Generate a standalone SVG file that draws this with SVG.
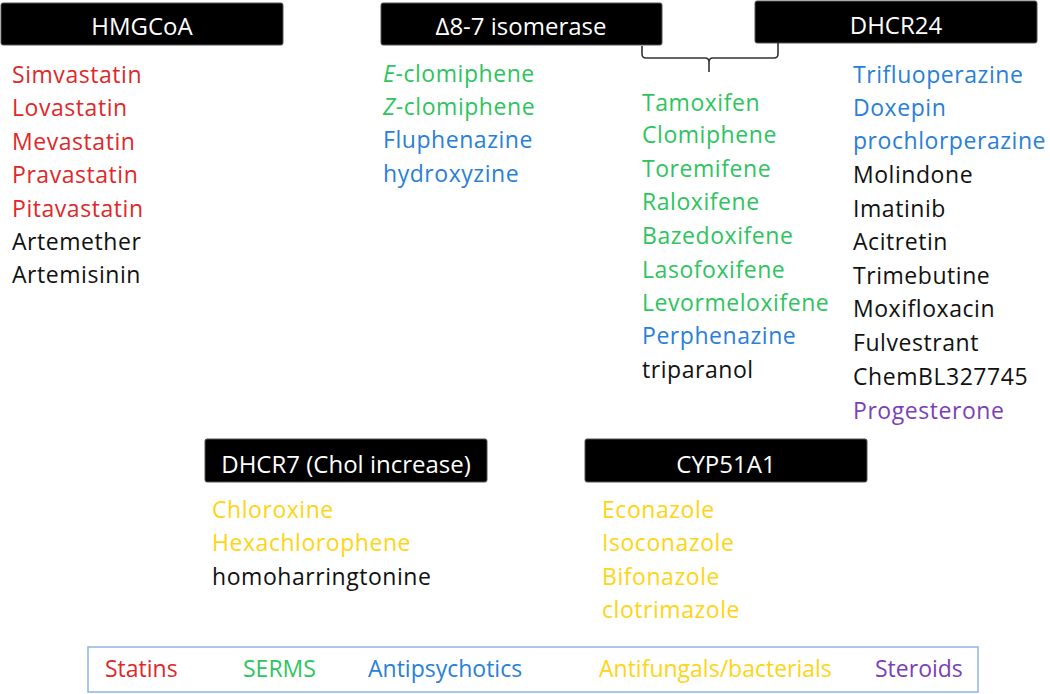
<svg xmlns="http://www.w3.org/2000/svg" width="1050" height="694" viewBox="0 0 1050 694">
<style>
text{font-family:"Open Sans","Liberation Sans",sans-serif;font-size:23px;}
.ls text{letter-spacing:0.55px;}
.hd rect{fill:#000;stroke:#555;stroke-width:1;}
.hd text{fill:#fff;font-size:24px;text-anchor:middle;}
.r{fill:#E0282A;}
.g{fill:#2EC45E;}
.b{fill:#2880D8;}
.y{fill:#FFD414;}
.p{fill:#7B3FB8;}
.k{fill:#111;}
.it{font-style:italic;}
</style>
<rect width="1050" height="694" fill="#fff"/>
<g id="hmgcoa" class="hd"><rect x="1" y="3" width="282" height="42" rx="2"/><text x="142" y="35">HMGCoA</text></g>
<g id="isomerase" class="hd"><rect x="381" y="3" width="281" height="42" rx="2"/><text x="521" y="35">Δ8-7 isomerase</text></g>
<g id="dhcr24" class="hd"><rect x="755" y="1" width="282" height="42" rx="2"/><text x="896" y="34">DHCR24</text></g>
<g id="dhcr7" class="hd"><rect x="205" y="439" width="282" height="43" rx="2"/><text x="346" y="473">DHCR7 (Chol increase)</text></g>
<g id="cyp51a1" class="hd"><rect x="585" y="439" width="282" height="43" rx="2"/><text x="726" y="473">CYP51A1</text></g>
<g id="connectors">
<path d="M642,46 L642,54 Q642,58 646,58 L705,58 Q709,58 709,62 L709,72 M709,62 Q709,58 713,58 L774,58 Q778,58 778,54 L778,43" fill="none" stroke="#333" stroke-width="1.6"/>
</g>
<g id="list-hmgcoa" class="ls">
<text x="12" y="83" class="r">Simvastatin</text>
<text x="12" y="116" class="r">Lovastatin</text>
<text x="12" y="150" class="r">Mevastatin</text>
<text x="12" y="183" class="r">Pravastatin</text>
<text x="12" y="217" class="r">Pitavastatin</text>
<text x="12" y="250" class="k">Artemether</text>
<text x="12" y="283" class="k">Artemisinin</text>
</g>
<g id="list-isomerase" class="ls">
<text x="383" y="82" class="g"><tspan class="it">E</tspan>-clomiphene</text>
<text x="383" y="115" class="g"><tspan class="it">Z</tspan>-clomiphene</text>
<text x="383" y="148" class="b">Fluphenazine</text>
<text x="383" y="182" class="b">hydroxyzine</text>
</g>
<g id="list-shared" class="ls">
<text x="642" y="111" class="g">Tamoxifen</text>
<text x="642" y="143" class="g">Clomiphene</text>
<text x="642" y="177" class="g">Toremifene</text>
<text x="642" y="210" class="g">Raloxifene</text>
<text x="642" y="244" class="g">Bazedoxifene</text>
<text x="642" y="278" class="g">Lasofoxifene</text>
<text x="642" y="311" class="g">Levormeloxifene</text>
<text x="642" y="344" class="b">Perphenazine</text>
<text x="642" y="378" class="k">triparanol</text>
</g>
<g id="list-dhcr24" class="ls">
<text x="853" y="83" class="b">Trifluoperazine</text>
<text x="853" y="116" class="b">Doxepin</text>
<text x="853" y="149" class="b">prochlorperazine</text>
<text x="853" y="183" class="k">Molindone</text>
<text x="853" y="217" class="k">Imatinib</text>
<text x="853" y="250" class="k">Acitretin</text>
<text x="853" y="284" class="k">Trimebutine</text>
<text x="853" y="317" class="k">Moxifloxacin</text>
<text x="853" y="351" class="k">Fulvestrant</text>
<text x="853" y="385" class="k">ChemBL327745</text>
<text x="853" y="419" class="p">Progesterone</text>
</g>
<g id="list-dhcr7" class="ls">
<text x="212" y="518" class="y">Chloroxine</text>
<text x="212" y="551" class="y">Hexachlorophene</text>
<text x="212" y="585" class="k">homoharringtonine</text>
</g>
<g id="list-cyp51a1" class="ls">
<text x="602" y="518" class="y">Econazole</text>
<text x="602" y="551" class="y">Isoconazole</text>
<text x="602" y="585" class="y">Bifonazole</text>
<text x="602" y="618" class="y">clotrimazole</text>
</g>
<g id="legend">
<rect x="88" y="647" width="890" height="45" fill="none" stroke="#8EB4E3" stroke-width="1.5"/>
<text x="105" y="677" class="r">Statins</text>
<text x="243" y="677" class="g">SERMS</text>
<text x="368" y="677" class="b">Antipsychotics</text>
<text x="599" y="677" class="y">Antifungals/bacterials</text>
<text x="875" y="677" class="p">Steroids</text>
</g>
</svg>
